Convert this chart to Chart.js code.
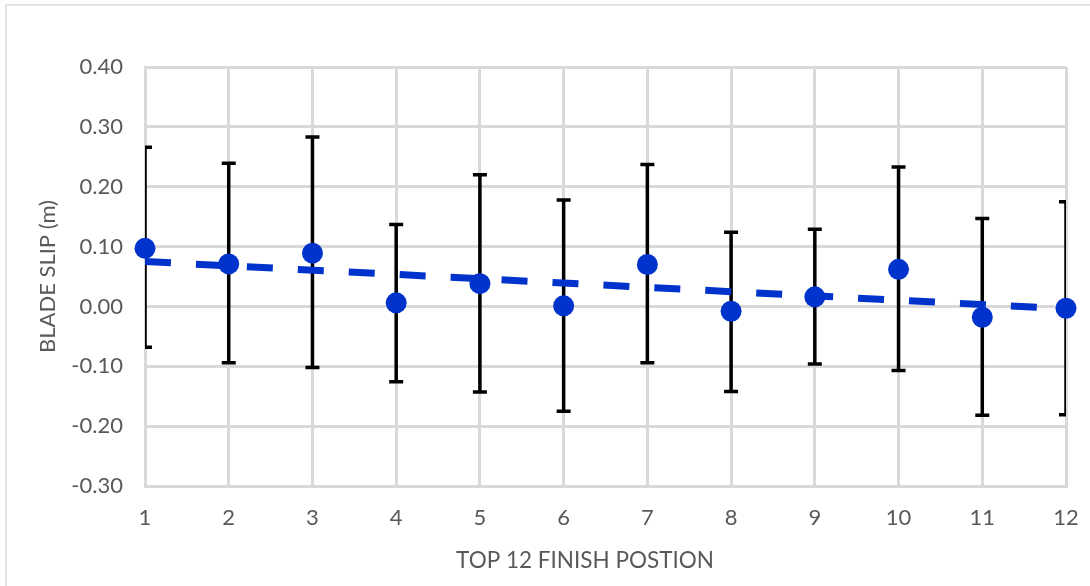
<!DOCTYPE html>
<html>
<head>
<meta charset="utf-8">
<script src="https://cdn.jsdelivr.net/npm/chart.js@4.4.1/dist/chart.umd.min.js"></script>
<style>
  body { margin: 0; background: #fff; }
  #wrap { position: relative; width: 1090px; height: 586px; }
  #frame { position: absolute; left: 5px; top: 4px; right: 0; bottom: 0;
           border-left: 2px solid #e3e3e3; border-top: 2px solid #e3e3e3; }
  #slipChart { position: absolute; left: 0; top: 0; }
</style>
</head>
<body>
<div id="wrap">
  <div id="frame"></div>
  <canvas id="slipChart" width="1090" height="586"></canvas>
</div>
<script>
// finish positions and blade slip (m)
const positions = [1, 2, 3, 4, 5, 6, 7, 8, 9, 10, 11, 12];
const meanSlip  = [0.097, 0.071, 0.089, 0.006, 0.038, 0.001, 0.070, -0.008, 0.016, 0.062, -0.018, -0.003];
const barTop    = [0.266, 0.239, 0.283, 0.137, 0.220, 0.178, 0.237, 0.124, 0.129, 0.233, 0.147, 0.175];
const barBottom = [-0.068, -0.094, -0.102, -0.126, -0.143, -0.175, -0.094, -0.142, -0.096, -0.107, -0.182, -0.181];
const trendX = [1, 12];
const trendY = [0.075, -0.004];

const blue = '#0033cc';
const grey = '#595959';
const gridGrey = '#d9d9d9';
const fontName = 'Lato, "Open Sans", sans-serif';

const errorBars = {
    id: 'errorBars',
    beforeDatasetsDraw: function(chart) {
        const ctx = chart.ctx;
        const x = chart.scales.x, y = chart.scales.y;
        const area = chart.chartArea;
        ctx.save();
        ctx.beginPath();
        ctx.rect(area.left, area.top, area.right - area.left, area.bottom - area.top);
        ctx.clip();
        ctx.strokeStyle = '#000';
        ctx.lineWidth = 3.5;
        positions.forEach(function(p, i) {
            const px = x.getPixelForValue(p);
            const yt = y.getPixelForValue(barTop[i]);
            const yb = y.getPixelForValue(barBottom[i]);
            ctx.beginPath();
            ctx.moveTo(px, yt); ctx.lineTo(px, yb);
            ctx.moveTo(px - 7, yt); ctx.lineTo(px + 7, yt);
            ctx.moveTo(px - 7, yb); ctx.lineTo(px + 7, yb);
            ctx.stroke();
        });
        ctx.restore();
    }
};

const xTitle = {
    id: 'xTitle',
    afterDraw: function(chart) {
        const ctx = chart.ctx;
        ctx.save();
        ctx.font = '22.5px ' + fontName;
        ctx.fillStyle = grey;
        ctx.textAlign = 'center';
        ctx.textBaseline = 'middle';
        ctx.fillText('TOP 12 FINISH POSTION', 585, 561);
        ctx.restore();
    }
};

const ctx = document.getElementById('slipChart');
const slipChart = new Chart(ctx, {
    type: 'scatter',
    data: {
        datasets: [{
            label: 'Blade slip',
            data: positions.map((p, i) => ({ x: p, y: meanSlip[i] })),
            backgroundColor: blue,
            borderWidth: 0,
            pointRadius: 10.5,
            pointHoverRadius: 10.5,
            clip: false
        }, {
            label: 'Trend',
            type: 'line',
            data: trendX.map((p, i) => ({ x: p, y: trendY[i] })),
            borderColor: blue,
            borderWidth: 7,
            borderDash: [26, 25],
            pointRadius: 0,
            fill: false
        }]
    },
    options: {
        responsive: false,
        animation: false,
        layout: { padding: { left: 0, top: 67, right: 24, bottom: 0 } },
        plugins: {
            legend: { display: false },
            tooltip: { enabled: false }
        },
        scales: {
            x: {
                type: 'linear',
                min: 1, max: 12,
                afterFit: function(scale) {
                    scale.height = 100;
                    scale.paddingLeft = 0;
                    scale.paddingRight = 0;
                },
                ticks: { stepSize: 1, padding: 19, color: grey, font: { family: fontName, size: 22 } },
                grid: { color: gridGrey, lineWidth: 3, drawTicks: false },
                border: { color: gridGrey, width: 3 }
            },
            y: {
                min: -0.3, max: 0.4,
                afterFit: function(scale) { scale.width = 145; },
                ticks: {
                    stepSize: 0.1, padding: 22, color: grey,
                    font: { family: fontName, size: 22 },
                    callback: function(v) { return (Math.abs(v) < 1e-9 ? 0 : v).toFixed(2); }
                },
                grid: { color: gridGrey, lineWidth: 3, drawTicks: false },
                border: { color: gridGrey, width: 3 },
                title: {
                    display: true, text: 'BLADE SLIP (m)', color: grey,
                    font: { family: fontName, size: 22 },
                    padding: { top: 35, bottom: 0 }
                }
            }
        }
    },
    plugins: [errorBars, xTitle]
});
</script>
</body>
</html>
